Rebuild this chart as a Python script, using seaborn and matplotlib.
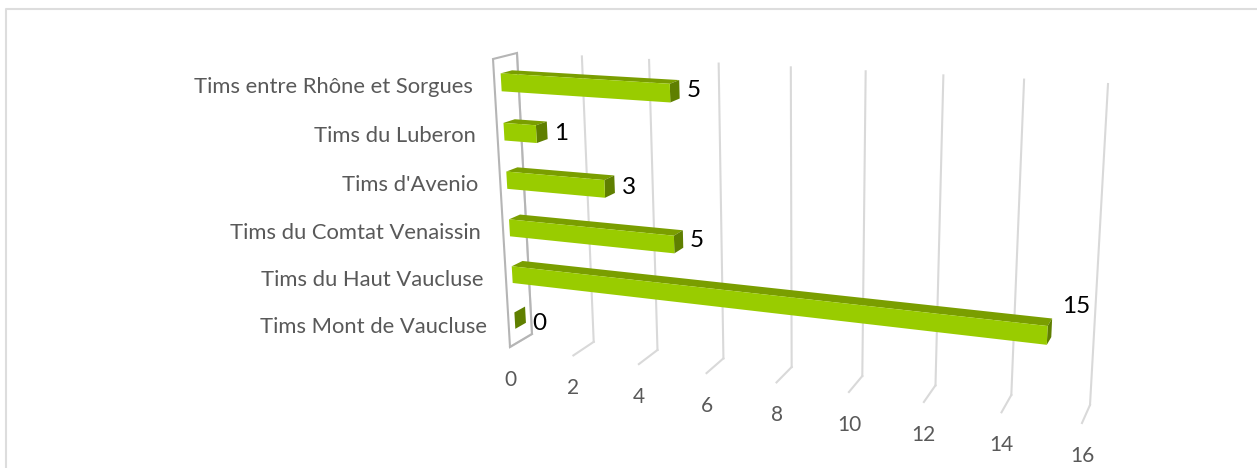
import numpy as np
import seaborn as sns
import matplotlib
matplotlib.use("Agg")
import matplotlib.pyplot as plt
from matplotlib.lines import Line2D
from matplotlib.patches import Polygon
from matplotlib.transforms import Affine2D, IdentityTransform, Transform

categories = ["Tims entre Rhône et Sorgues", "Tims du Luberon", "Tims d'Avenio",
              "Tims du Comtat Venaissin", "Tims du Haut Vaucluse", "Tims Mont de Vaucluse"]
values = [5, 1, 3, 5, 15, 0]
ticks = [0, 2, 4, 6, 8, 10, 12, 14, 16]

W, H = 1257, 468
plt.rcParams["font.family"] = ["Lato", "DejaVu Sans"]

# coins des plans avant et arriere de la boite 3D, en pixels de l'image
# ordre : (0, haut), (16, haut), (16, bas), (0, bas)
FRONT = [(493, 59), (1098, 95), (1082, 423), (510, 347)]
BACK = [(517, 53), (1108, 84), (1090, 405), (532, 334)]
SRC = [(0, -0.5), (16, -0.5), (16, 5.5), (0, 5.5)]
BAR_D = (0.28, 0.76)


def homography(src, dst):
    A, b = [], []
    for (x, y), (u, v) in zip(src, dst):
        A.append([x, y, 1, 0, 0, 0, -u * x, -u * y])
        A.append([0, 0, 0, x, y, 1, -v * x, -v * y])
        b += [u, v]
    return np.append(np.linalg.solve(np.array(A, float), np.array(b, float)), 1).reshape(3, 3)


H_FRONT = homography(SRC, FRONT)
H_BACK = homography(SRC, BACK)


def apply_h(m, xy):
    p = np.column_stack([xy, np.ones(len(xy))]) @ m.T
    return p[:, :2] / p[:, 2:]


class Perspective(Transform):
    input_dims = 2
    output_dims = 2
    is_separable = False
    has_inverse = False

    def __init__(self, plane):
        super().__init__()
        self.plane = plane

    def transform_non_affine(self, xy):
        xy = np.asarray(xy, float)
        return (1 - self.plane) * apply_h(H_FRONT, xy) + self.plane * apply_h(H_BACK, xy)


fig, ax = plt.subplots(figsize=(W / 100, H / 100), dpi=100)
fig.subplots_adjust(0, 0, 1, 1)

sns.barplot(x=values, y=categories, orient="h", color="#99CC00", saturation=1, width=0.36, ax=ax)
ax.set_axis_off()

pixels = Affine2D().scale(1, -1).translate(0, H)
screen = IdentityTransform()
t_front = Perspective(0) + pixels
t_back = Perspective(1) + pixels
t_bar = Perspective(BAR_D[0]) + pixels
t_bar_back = Perspective(BAR_D[1]) + pixels
bars = list(ax.patches)

# cadre de l'image
fig.add_artist(Line2D([6 / W, 6 / W, 1], [0, 1 - 8.5 / H, 1 - 8.5 / H], color="#DDDDDD", lw=1.5))

# grille : mur du fond et retour au sol
for v in ticks:
    ax.add_line(Line2D([v, v], [-0.5, 5.5], transform=t_back, color="#D9D9D9", lw=1.5, zorder=1, clip_on=False))
    p0 = t_back.transform([(v, 5.5)])[0]
    p1 = t_front.transform([(v, 5.5)])[0]
    ax.add_line(Line2D([p0[0], p1[0]], [p0[1], p1[1]], transform=screen, color="#D9D9D9", lw=1.5, zorder=1, clip_on=False))
    ax.annotate(str(v), xy=(v, 5.5), xycoords=t_front, xytext=(0, -33), textcoords="offset pixels",
                ha="center", va="center", fontsize=15, color="#595959")

# paroi de gauche
wall = [t_front.transform([(0, -0.5)])[0], t_back.transform([(0, -0.5)])[0],
        t_back.transform([(0, 5.5)])[0], t_front.transform([(0, 5.5)])[0]]
ax.add_patch(Polygon(wall, closed=True, fill=False, edgecolor="#B5B5B5", lw=1.5, transform=screen, zorder=1.5, clip_on=False))

# barres : face avant de seaborn, dessus et cote ajoutes
for bar in bars:
    x0, y0, w, h = bar.get_x(), bar.get_y(), bar.get_width(), bar.get_height()
    top = np.vstack([t_bar.transform([(x0, y0), (x0 + w, y0)]),
                     t_bar_back.transform([(x0 + w, y0), (x0, y0)])])
    side = np.vstack([t_bar.transform([(x0 + w, y0), (x0 + w, y0 + h)]),
                      t_bar_back.transform([(x0 + w, y0 + h), (x0 + w, y0)])])
    ax.add_patch(Polygon(top, closed=True, fc="#7A9E00", ec="none", transform=screen, zorder=3, clip_on=False))
    ax.add_patch(Polygon(side, closed=True, fc="#5F7F00", ec="none", transform=screen, zorder=3, clip_on=False))
    bar.set_transform(t_bar)
    bar.set_zorder(4)
    bar.set_clip_on(False)
    bar.set_linewidth(0)

# etiquettes (decalages en pixels, places a la main comme dans l'original)
value_offsets = [(14, -1), (14, -3), (14, -3), (14, -1), (24, 21), (14, -9)]
for i, (cat, val) in enumerate(zip(categories, values)):
    ax.annotate(cat, xy=(0, i), xycoords=t_front, xytext=(-22, -2.5), textcoords="offset pixels",
                ha="right", va="center", fontsize=15.8, color="#595959")
    ax.annotate(str(val), xy=(val, i), xycoords=t_bar_back, xytext=value_offsets[i], textcoords="offset pixels",
                ha="center", va="center", fontsize=17.5, color="black")

fig.savefig("out.png", dpi=100, facecolor="white")
